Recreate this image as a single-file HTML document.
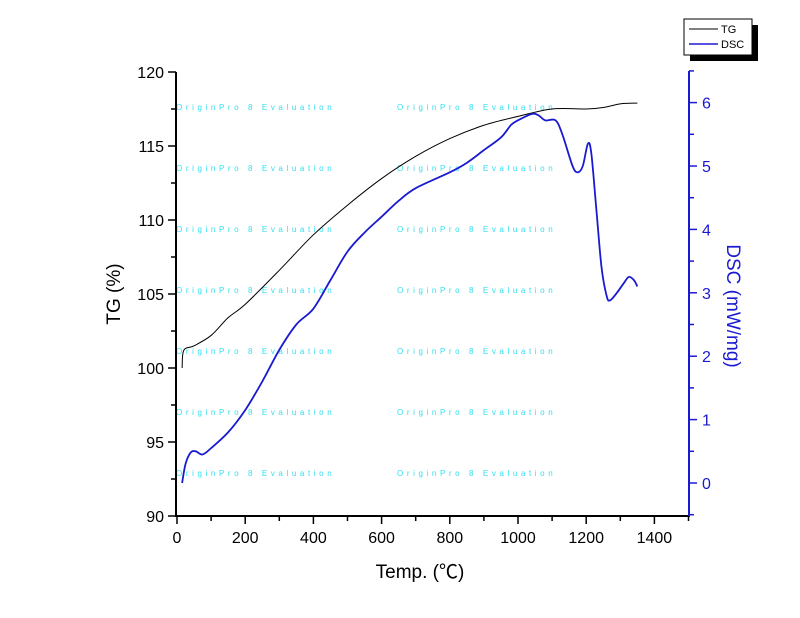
<!DOCTYPE html>
<html><head><meta charset="utf-8"><style>
body{margin:0;background:#fff;}
svg{display:block;font-family:"Liberation Sans",Arial,sans-serif;}
</style></head><body>
<svg id="chart" width="800" height="618" viewBox="0 0 800 618">
<g id="wm"></g>
<g id="axes"></g>
<g id="series"></g>
<text x="420" y="578" font-size="19" text-anchor="middle">Temp. (<tspan font-family="'Noto Sans CJK SC',sans-serif">℃</tspan>)</text>
<text transform="translate(120,294) rotate(-90)" font-size="19" text-anchor="middle">TG (%)</text>
<text transform="translate(727,306) rotate(90)" font-size="19" fill="#1a1ad0" text-anchor="middle">DSC (mW/mg)</text>
<g>
<rect x="690" y="25" width="68" height="36" fill="#000"/>
<rect x="684" y="19" width="68" height="36" fill="#fff" stroke="#000" stroke-width="1"/>
<line x1="689" y1="29" x2="718" y2="29" stroke="#000"/>
<text x="721" y="33" font-size="11">TG</text>
<line x1="689" y1="44" x2="718" y2="44" stroke="#1a1ad0" stroke-width="1.5"/>
<text x="721" y="48" font-size="11">DSC</text>
</g>
</svg>
<script>
const tgTemp=[15,20,50,100,150,200,300,400,500,600,700,800,900,1000,1100,1200,1250,1300,1350];
const tgVals=[100,101.2,101.5,102.2,103.4,104.3,106.6,109.0,111.0,112.8,114.3,115.5,116.4,117.0,117.5,117.5,117.6,117.85,117.9];
const dscTemp=[15,25,40,55,75,100,150,200,250,300,350,400,450,500,550,600,650,700,800,850,900,950,980,1000,1040,1060,1080,1110,1130,1160,1175,1190,1205,1215,1230,1245,1260,1270,1290,1310,1325,1340,1350];
const dscVals=[0.0,0.3,0.48,0.5,0.45,0.55,0.8,1.15,1.6,2.1,2.5,2.75,3.2,3.65,3.95,4.2,4.45,4.65,4.9,5.05,5.25,5.45,5.65,5.72,5.82,5.8,5.72,5.72,5.5,5.0,4.9,5.0,5.35,5.2,4.3,3.4,2.95,2.88,3.0,3.15,3.25,3.2,3.1];
const xTicks=[0,200,400,600,800,1000,1200,1400];
const yLeftTicks=[90,95,100,105,110,115,120];
const yRightTicks=[0,1,2,3,4,5,6];

const NS="http://www.w3.org/2000/svg";
const X0=177,XS=(688.5-177)/1500;
const sx=t=>X0+t*XS;
const sy=v=>516-(v-90)*(444/30);
const sd=v=>483-v*63.4;
const BLUE="#1a1ad0";
function mk(tag,attrs,parent){const e=document.createElementNS(NS,tag);for(const k in attrs)e.setAttribute(k,attrs[k]);parent.appendChild(e);return e;}
const ax=document.getElementById('axes'),se=document.getElementById('series'),wm=document.getElementById('wm');

[107,168,229,290,351,412,473].forEach(y=>{[176,397].forEach(x=>{
 const t=mk('text',{x:x,y:y+3,'font-size':8,fill:'#33e0f0','letter-spacing':'3.6'},wm);
 
 
 t.textContent='OriginPro 8 Evaluation';});});

let l=mk('line',{x1:176,y1:72,x2:176,y2:517,stroke:'#000','stroke-width':2},ax);


l=mk('line',{x1:175,y1:516,x2:690,y2:516,stroke:'#000','stroke-width':2},ax);


l=mk('line',{x1:689,y1:71,x2:689,y2:517,stroke:BLUE,'stroke-width':2},ax);



for(let t=0;t<=1500;t+=100){const major=t%200===0;
 const k=mk('line',{x1:sx(t),y1:516,x2:sx(t),y2:major?524:521,stroke:'#000','stroke-width':1.5},ax);
 
 }
xTicks.forEach(t=>{const e=mk('text',{x:sx(t),y:543,'font-size':16,'text-anchor':'middle'},ax);
 
 
 e.textContent=t;});
for(let v=90;v<=120;v+=2.5){const major=v%5===0;
 const k=mk('line',{x1:major?168:171,y1:sy(v),x2:176,y2:sy(v),stroke:'#000','stroke-width':1.5},ax);
 
 }
yLeftTicks.forEach(v=>{const e=mk('text',{x:164,y:sy(v)+6,'font-size':16,'text-anchor':'end'},ax);
 
 
 e.textContent=v;});
for(let v=-0.5;v<=6.5;v+=0.5){const major=Math.abs(v%1)<1e-9;
 const k=mk('line',{x1:689,y1:sd(v),x2:major?697:694,y2:sd(v),stroke:BLUE,'stroke-width':1.5},ax);
 
 }
yRightTicks.forEach(v=>{const e=mk('text',{x:702,y:sd(v)+6,'font-size':16,fill:BLUE},ax);
 
 
 e.textContent=v;});

function smooth(xs,ys){let d='M'+xs[0]+','+ys[0];
 for(let i=0;i<xs.length-1;i++){const x0=xs[Math.max(i-1,0)],y0=ys[Math.max(i-1,0)],x1=xs[i],y1=ys[i],x2=xs[i+1],y2=ys[i+1],x3=xs[Math.min(i+2,xs.length-1)],y3=ys[Math.min(i+2,xs.length-1)];
  d+=' C'+(x1+(x2-x0)/6)+','+(y1+(y2-y0)/6)+' '+(x2-(x3-x1)/6)+','+(y2-(y3-y1)/6)+' '+x2+','+y2;}
 return d;}
let p=mk('path',{d:smooth(tgTemp.map(sx),tgVals.map(sy)),fill:'none',stroke:'#000','stroke-width':1},se);


p=mk('path',{d:smooth(dscTemp.map(sx),dscVals.map(sd)),fill:'none',stroke:BLUE,'stroke-width':1.8},se);


</script>
</body></html>
